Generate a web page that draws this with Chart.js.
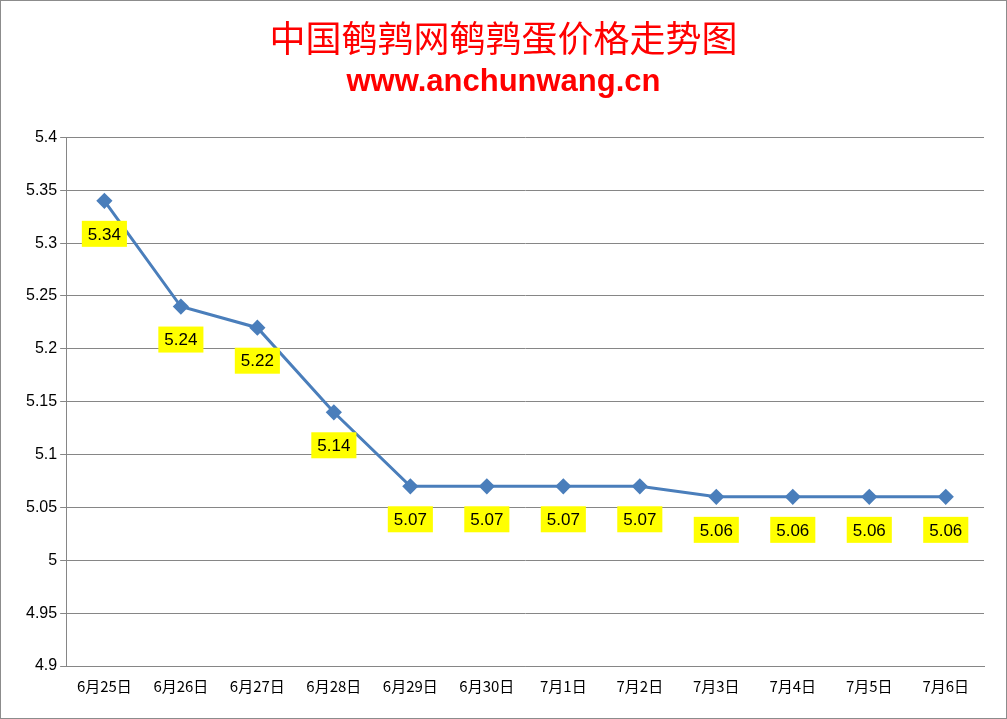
<!DOCTYPE html>
<html lang="zh-CN">
<head>
<meta charset="UTF-8">
<title>中国鹌鹑网鹌鹑蛋价格走势图</title>
<script src="https://cdn.jsdelivr.net/npm/chart.js"></script>
<style>
  body { margin: 0; background: #fff; }
  #box { width: 1005px; height: 717px; border: 1px solid #8c8c8c; }
</style>
</head>
<body>
<div id="box"><canvas id="grafico"></canvas></div>
<script>
// dados
const categorias = ['6月25日','6月26日','6月27日','6月28日','6月29日','6月30日','7月1日','7月2日','7月3日','7月4日','7月5日','7月6日'];
const precos = [5.34, 5.24, 5.22, 5.14, 5.07, 5.07, 5.07, 5.07, 5.06, 5.06, 5.06, 5.06];

// rótulos amarelos abaixo de cada ponto
const rotulos = {
  id: 'rotulos',
  afterDatasetsDraw(chart) {
    const ctx = chart.ctx;
    const meta = chart.getDatasetMeta(0);
    ctx.save();
    ctx.font = '17px "Liberation Sans", Arial';
    ctx.textAlign = 'center';
    ctx.textBaseline = 'middle';
    meta.data.forEach((p, i) => {
      const txt = precos[i].toFixed(2);
      const w = ctx.measureText(txt).width + 12;
      const y = p.y + 33;
      ctx.fillStyle = '#ffff00';
      ctx.fillRect(p.x - w / 2, y - 13, w, 26);
      ctx.fillStyle = '#000';
      ctx.fillText(txt, p.x, y + 1);
    });
    ctx.restore();
  }
};

new Chart(document.getElementById('grafico').getContext('2d'), {
  type: 'line',
  data: {
    labels: categorias,
    datasets: [{
      data: precos,
      borderColor: '#4a7ebb',
      backgroundColor: '#4a7ebb',
      borderWidth: 3,
      pointStyle: 'rectRot',
      pointRadius: 6,
      tension: 0
    }]
  },
  options: {
    responsive: true,
    maintainAspectRatio: false,
    animation: false,
    layout: { padding: { left: 22, right: 22, top: 16, bottom: 20 } },
    plugins: {
      legend: { display: false },
      tooltip: { enabled: false },
      title: {
        display: true,
        text: '中国鹌鹑网鹌鹑蛋价格走势图',
        color: '#ff0000',
        font: { family: '"Noto Sans CJK SC"', size: 36, weight: 'normal' },
        padding: { top: 0, bottom: 4 }
      },
      subtitle: {
        display: true,
        text: 'www.anchunwang.cn',
        color: '#ff0000',
        font: { family: '"Liberation Sans", Arial', size: 31, weight: 'bold' },
        padding: { top: 0, bottom: 36 }
      }
    },
    scales: {
      x: {
        offset: true,
        grid: { display: false },
        border: { color: '#868686' },
        ticks: { color: '#000', font: { family: '"Noto Sans CJK SC"', size: 15 }, maxRotation: 0 }
      },
      y: {
        min: 4.9,
        max: 5.4,
        grid: { color: '#868686', drawTicks: true, tickLength: 6 },
        border: { color: '#868686' },
        ticks: {
          stepSize: 0.05,
          color: '#000',
          font: { family: '"Liberation Sans", Arial', size: 16 },
          callback: v => String(Number(v.toFixed(2)))
        }
      }
    }
  },
  plugins: [rotulos]
});
</script>
</body>
</html>
